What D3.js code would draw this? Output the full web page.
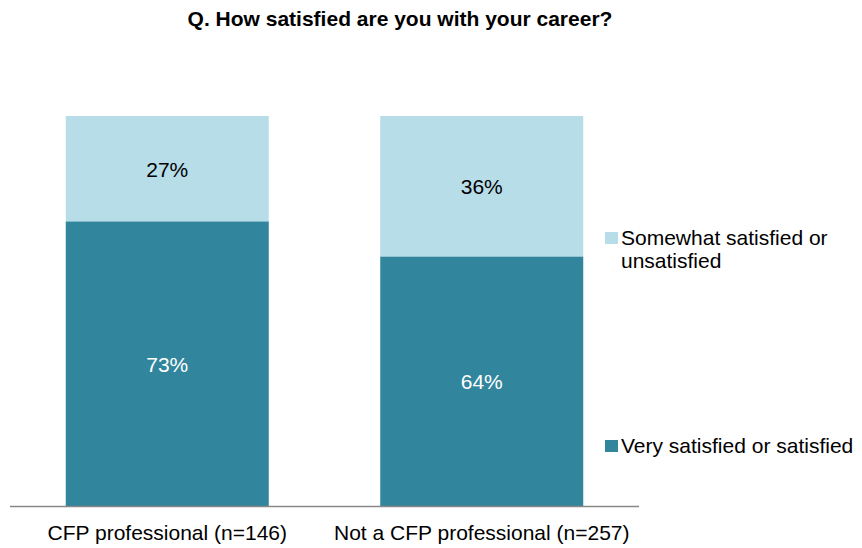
<!DOCTYPE html>
<html><head><meta charset="utf-8">
<script src="https://cdn.jsdelivr.net/npm/d3@7"></script>
<style>body{margin:0;background:#fff;} svg{display:block;font-family:Arial,"Liberation Sans",sans-serif;}</style>
</head><body>
<svg id="c" width="862" height="548"></svg>
<script>
const categories = ["CFP professional (n=146)", "Not a CFP professional (n=257)"];
const seriesNames = ["Very satisfied or satisfied", "Somewhat satisfied or unsatisfied"];
const verySatisfied = [73, 64];
const somewhatSatisfied = [27, 36];
const colors = ["#31859c", "#b7dde8"];
const labelColors = ["#ffffff", "#000000"];

const svg = d3.select("#c");
const x = d3.scaleBand().domain(categories).range([10, 639]).paddingInner(0.3545).paddingOuter(0.1773);
const y = d3.scaleLinear().domain([0, 100]).range([506, 116]);

const rows = categories.map((c, i) => ({cat: c, v0: verySatisfied[i], v1: somewhatSatisfied[i]}));
const stack = d3.stack().keys(["v0", "v1"])(rows);

svg.append("text").attr("x", 400).attr("y", 26).attr("text-anchor", "middle")
  .attr("font-size", 21).attr("font-weight", "bold").text("Q. How satisfied are you with your career?");

stack.forEach((layer, li) => {
  const g = svg.append("g");
  g.selectAll("rect").data(layer).join("rect")
    .attr("x", d => x(d.data.cat)).attr("width", x.bandwidth())
    .attr("y", d => y(d[1])).attr("height", d => y(d[0]) - y(d[1]))
    .attr("fill", colors[li]);
  g.selectAll("text").data(layer).join("text")
    .attr("x", d => x(d.data.cat) + x.bandwidth() / 2)
    .attr("y", d => (y(d[0]) + y(d[1])) / 2 + 8)
    .attr("text-anchor", "middle").attr("font-size", 21).attr("fill", labelColors[li])
    .text(d => (d[1] - d[0]) + "%");
});

const ax = svg.append("g").attr("transform", "translate(0,506)")
  .call(d3.axisBottom(x).tickSize(0).tickPadding(19));
ax.select(".domain").attr("stroke", "#888").attr("stroke-width", 1.5).attr("d", "M10,0.5H639");
ax.selectAll("text").attr("font-size", 21).attr("fill", "#000").attr("font-family", "Arial,'Liberation Sans',sans-serif");

// legend
const leg = [
  {name: ["Somewhat satisfied or", "unsatisfied"], color: colors[1], y: 245},
  {name: ["Very satisfied or satisfied"], color: colors[0], y: 453}
];
leg.forEach(l => {
  svg.append("rect").attr("x", 605).attr("y", l.y - 13).attr("width", 13).attr("height", 12).attr("fill", l.color);
  const t = svg.append("text").attr("x", 621).attr("y", l.y).attr("font-size", 21).attr("fill", "#000");
  l.name.forEach((s, i) => t.append("tspan").attr("x", 621).attr("dy", i === 0 ? 0 : 23).text(s));
});
</script>
</body></html>
